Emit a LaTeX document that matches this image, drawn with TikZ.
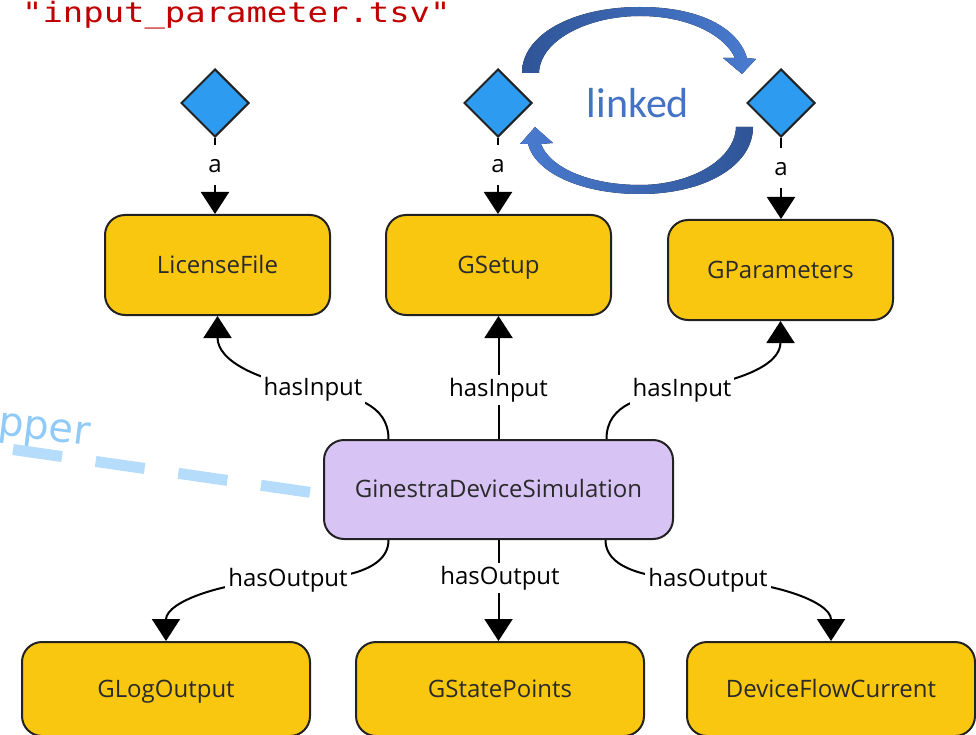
\documentclass[tikz,border=0pt]{standalone}
\usepackage{fontspec}
\setmainfont{Open Sans}
\newfontfamily\carl{Carlito}
\newfontfamily\dvs{DejaVu Sans}
\newfontfamily\dvm{DejaVu Sans Mono}
\usetikzlibrary{arrows.meta,shapes.geometric}
\definecolor{boxyellow}{HTML}{F9C70F}
\definecolor{boxpurple}{HTML}{D8C3F5}
\definecolor{diablue}{HTML}{2D9BEF}
\definecolor{edgegray}{HTML}{222222}
\definecolor{txtgray}{HTML}{2A2A2A}
\definecolor{linkblue}{HTML}{4472C4}
\definecolor{arcdark}{HTML}{2F5597}
\definecolor{arclight}{HTML}{4A7BD0}
\definecolor{wrapblue}{HTML}{B5DCFB}
\definecolor{wraptext}{HTML}{90CAF9}
\definecolor{fileRed}{HTML}{C00000}
\pgfdeclarelayer{bg}
\pgfsetlayers{bg,main}
\tikzset{
 classbox/.style={rectangle, rounded corners=20pt, draw=edgegray, line width=2pt, fill=boxyellow,
   minimum width=225pt, minimum height=100pt, text=txtgray, font=\fontsize{24}{28}\selectfont,
   text height=20pt, text depth=4pt, inner sep=0pt},
 actbox/.style={classbox, fill=boxpurple, minimum width=349pt, minimum height=99pt},
 outbox/.style={classbox, minimum width=288pt, minimum height=94pt},
 inst/.style={diamond, draw=edgegray, line width=2pt, fill=diablue, minimum width=68pt, minimum height=68pt, inner sep=0pt},
 rel/.style={fill=white, font=\fontsize{24}{28}\selectfont, text height=18pt, text depth=6pt, inner xsep=3pt, inner ysep=3pt},
 typelbl/.style={rel, text height=22pt, inner ysep=6pt},
 conn/.style={draw=black, line width=2pt, -{Triangle[width=28pt,length=22pt]}},
}
\begin{document}
\begin{tikzpicture}[x=1pt,y=-1pt]
\useasboundingbox (0,0) rectangle (976,735);
\clip (0,0) rectangle (976,735);

% wrapper dashed line and text
\coordinate (w0) at (13,449.5);
\coordinate (w1) at (311,492.5);
\draw[wrapblue, line width=11pt, dash pattern=on 49.5pt off 34pt] (w0) -- (w1);
\node[font=\dvs\fontsize{40}{46}\selectfont, text=wraptext, rotate=-7, anchor=base west, inner sep=0pt] (wr) at (-3,434) {pper};

% file name
\node[font=\dvm\fontsize{28}{32}\selectfont, text=fileRed, anchor=base west, inner sep=0pt] (fn) at (22,23) {\scalebox{1.21}[1]{"input\_parameter.tsv"}};

% boxes
\node[classbox] (lic) at (217.5,265) {LicenseFile};
\node[classbox] (gset) at (498.5,265) {GSetup};
\node[classbox] (gpar) at (780.5,270) {GParameters};
\node[actbox] (gds) at (498.5,489.5) {GinestraDeviceSimulation};
\node[outbox] (glog) at (166,689) {GLogOutput};
\node[outbox] (gsp) at (500,689) {GStatePoints};
\node[outbox] (dfc) at (831,689) {DeviceFlowCurrent};

% instances
\node[inst] (d1) at (215,103) {};
\node[inst] (d2) at (498,103) {};
\node[inst] (d3) at (781,103) {};

% labels
\node[typelbl] (a1) at (215,165) {a};
\node[typelbl] (a2) at (498,165) {a};
\node[typelbl] (a3) at (781,168) {a};
\node[rel] (i1) at (313,389) {hasInput};
\node[rel] (i2) at (498.5,390) {hasInput};
\node[rel] (i3) at (682,390) {hasInput};
\node[rel] (o1) at (288,580) {hasOutput};
\node[rel] (o2) at (500,578) {hasOutput};
\node[rel] (o3) at (708,580) {hasOutput};

\begin{pgfonlayer}{bg}
\draw[conn] (d1.south) -- (d1.south |- lic.north);
\draw[conn] (d2.south) -- (d2.south |- gset.north);
\draw[conn] (d3.south) -- (d3.south |- gpar.north);
\draw[conn] ([xshift=-110pt]gds.north) .. controls +(0,-35) and +(40,6) .. (i1.center)
   .. controls +(-55,-8) and +(0,45) .. (lic.south);
\draw[conn] (gds.north) -- (gds.north |- gset.south);
\draw[conn] ([xshift=108pt]gds.north) .. controls +(0,-35) and +(-40,6) .. (i3.center)
   .. controls +(55,-8) and +(0,45) .. (gpar.south);
\draw[conn] ([xshift=-110pt]gds.south) .. controls +(0,35) and +(40,0) .. (o1.center)
   .. controls +(-60,0) and +(0,-40) .. (glog.north);
\draw[conn] (gds.south) -- (gds.south |- gsp.north);
\draw[conn] ([xshift=107pt]gds.south) .. controls +(0,35) and +(-40,0) .. (o3.center)
   .. controls +(60,0) and +(0,-40) .. (dfc.north);
\end{pgfonlayer}

% linked circular arrows
\fill[left color=arcdark, right color=arclight]
  (522,73) .. controls (522,35) and (572,7) .. (640,7)
  .. controls (700,7) and (738,28) .. (747,58) -- (756,59) -- (742,74) -- (723,58) -- (735,58)
  .. controls (725,36) and (690,16) .. (640,16)
  .. controls (588,16) and (540,40) .. (539,73) -- cycle;
\fill[left color=arclight, right color=arcdark]
  (753,127) .. controls (753,165) and (706,194) .. (640,194)
  .. controls (580,194) and (535,172) .. (528,144) -- (520,144) -- (535,127) -- (553,143) -- (541,144)
  .. controls (550,168) and (590,185) .. (640,185)
  .. controls (690,185) and (735,160) .. (736,127) -- cycle;
\node[font=\carl\fontsize{42}{46}\selectfont, text=linkblue, anchor=base, inner sep=0pt] (lk) at (638,118) {linked};
\end{tikzpicture}
\end{document}
